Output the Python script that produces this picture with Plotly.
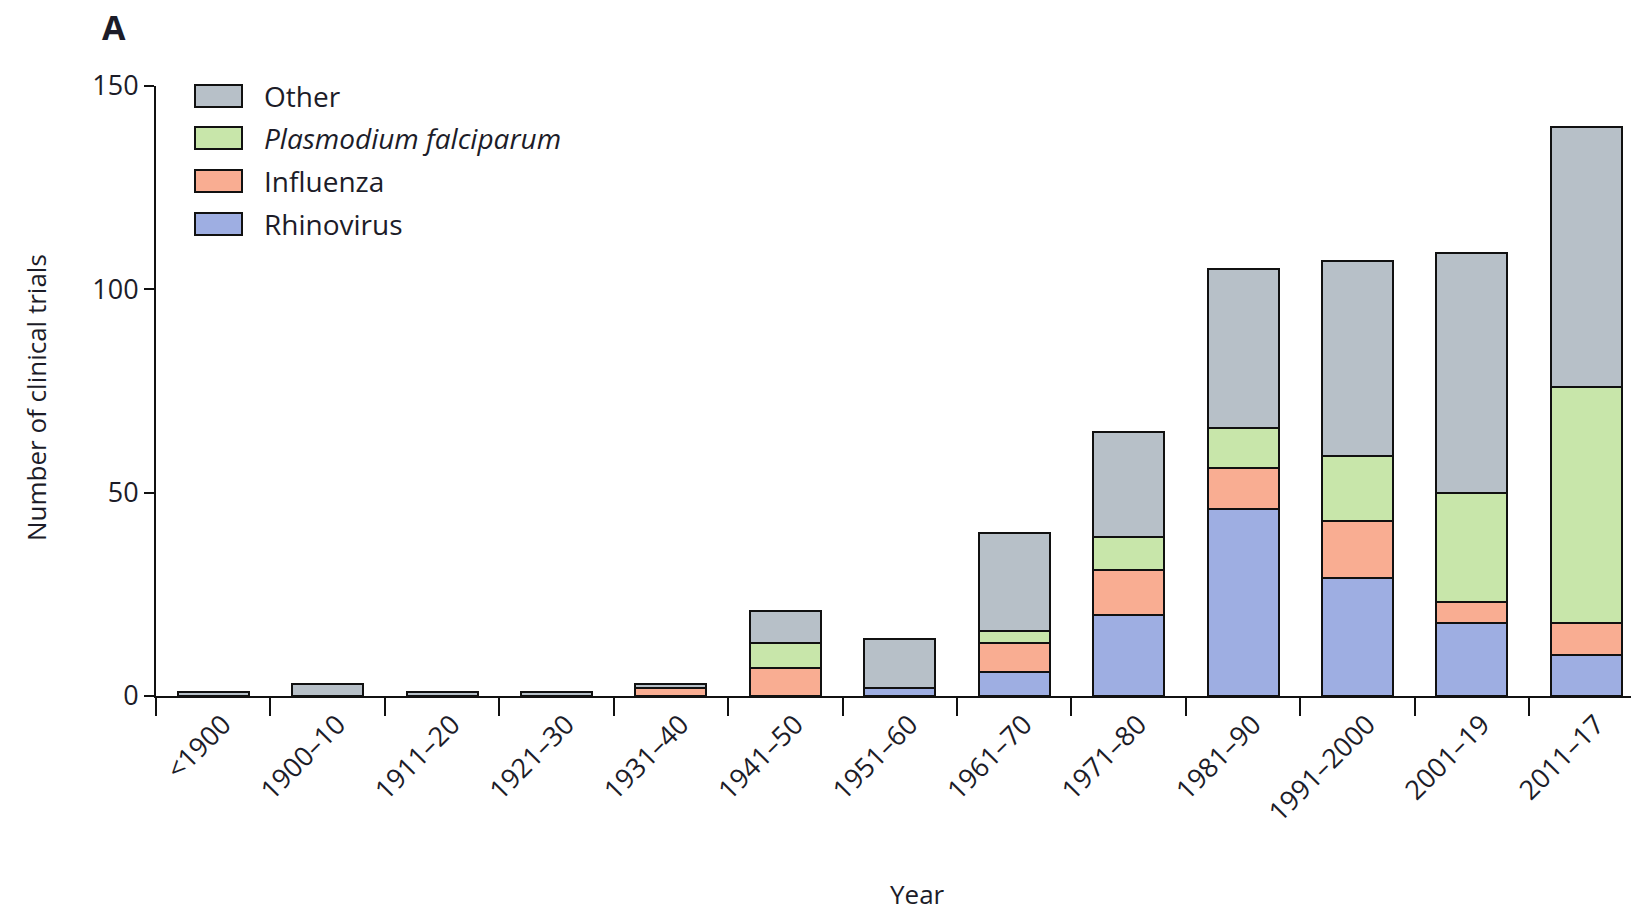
import plotly.graph_objects as go

# Decade bins and number of clinical trials by pathogen
periods = ["<1900", "1900–10", "1911–20", "1921–30", "1931–40", "1941–50",
           "1951–60", "1961–70", "1971–80", "1981–90", "1991–2000",
           "2001–19", "2011–17"]
rhinovirus = [0, 0, 0, 0, 0, 0, 2, 6, 20, 46, 29, 18, 10]
influenza = [0, 0, 0, 0, 2, 7, 0, 7, 11, 10, 14, 5, 8]
falciparum = [0, 0, 0, 0, 0, 6, 0, 3, 8, 10, 16, 27, 58]
other = [1, 3, 1, 1, 1, 8, 12, 24, 26, 39, 48, 59, 64]

y_ticks = [0, 50, 100, 150]

series = [
    ("Rhinovirus", rhinovirus, "#9eaee2"),
    ("Influenza", influenza, "#f9ad92"),
    ("<i>Plasmodium falciparum</i>", falciparum, "#c8e6aa"),
    ("Other", other, "#b7c0c8"),
]

FONT = "Open Sans"
INK = "#1c1c28"

fig = go.Figure()
for name, vals, col in series:
    fig.add_trace(go.Bar(
        x=periods, y=vals, name=name, width=0.62,
        marker=dict(color=col, line=dict(color="#111111", width=2)),
        showlegend=False,
    ))

W, H = 1631, 911
L, R, T, B = 156, 0, 86, 215
pw, ph = W - L - R, H - T - B


def px(x):
    return (x - L) / pw


def py(y):
    return (H - B - y) / ph


# Legend drawn as boxes + labels, top item first
shapes = []
annotations = []
legend_rows = [("Other", "#b7c0c8", 96),
               ("<i>Plasmodium falciparum</i>", "#c8e6aa", 138),
               ("Influenza", "#f9ad92", 181),
               ("Rhinovirus", "#9eaee2", 224)]
for label, col, cy in legend_rows:
    shapes.append(dict(type="rect", xref="paper", yref="paper",
                       x0=px(195), x1=px(242), y0=py(cy - 11), y1=py(cy + 11),
                       fillcolor=col, line=dict(color="#111111", width=2)))
    annotations.append(dict(xref="paper", yref="paper", x=px(262), y=py(cy),
                            text=label, showarrow=False, xanchor="left",
                            yanchor="middle",
                            font=dict(family=FONT, size=28, color=INK)))

annotations += [
    dict(xref="paper", yref="paper", x=px(114), y=py(27), text="<b>A</b>",
         showarrow=False, xanchor="center", yanchor="middle",
         font=dict(family=FONT, size=34, color=INK)),
    dict(xref="paper", yref="paper", x=px(36), y=py(398),
         text="Number of clinical trials", textangle=-90, showarrow=False,
         xanchor="center", yanchor="middle",
         font=dict(family=FONT, size=26, color=INK)),
    dict(xref="paper", yref="paper", x=px(917), y=py(894), text="Year",
         showarrow=False, xanchor="center", yanchor="middle",
         font=dict(family=FONT, size=26, color=INK)),
]

fig.update_layout(
    width=W, height=H,
    margin=dict(l=L, r=R, t=T, b=B, pad=0),
    barmode="stack",
    plot_bgcolor="white", paper_bgcolor="white",
    shapes=shapes, annotations=annotations,
    showlegend=False,
    font=dict(family=FONT, color=INK),
)
fig.update_xaxes(
    type="category", range=[-0.5, 12.39], tickson="boundaries",
    ticks="outside", ticklen=18, tickwidth=2, tickcolor="#111111",
    showline=True, linecolor="#111111", linewidth=2,
    showgrid=False, zeroline=False, tickangle=-45, ticklabelshift=10,
    tickfont=dict(family=FONT, size=27, color=INK),
)
fig.update_yaxes(
    range=[0, 150], tickvals=y_ticks,
    ticks="outside", ticklen=10, tickwidth=2, tickcolor="#111111",
    showline=True, linecolor="#111111", linewidth=2,
    showgrid=False, zeroline=False,
    tickfont=dict(family=FONT, size=27, color=INK),
)

fig.write_html("out.html")
